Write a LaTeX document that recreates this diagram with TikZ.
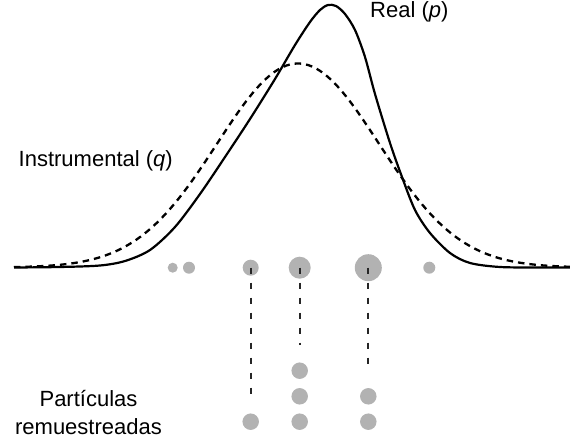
\documentclass[tikz,border=0pt]{standalone}
\usepackage{fontspec}
\setmainfont{Liberation Sans}
\usetikzlibrary{positioning}

\begin{document}
\begin{tikzpicture}[x=1pt, y=-1pt,
      font=\fontsize{22}{27.5}\selectfont,
      real/.style={line width=2.2pt, line join=round},
      instr/.style={line width=2.3pt, dash pattern=on 6.5pt off 5pt},
      part/.style={circle, fill=black!30, draw=none, inner sep=0pt},
      res/.style={part, minimum size=16.5pt},
      link/.style={line width=1.7pt, black!85, dash pattern=on 6pt off 9pt},
      lbl/.style={inner sep=0pt, anchor=base west}
    ]
    \useasboundingbox (0,0) rectangle (570,444);

    % ---- densities ----
    \draw[instr] plot[domain=14:570, samples=150]
      (\x, {267.5-204*exp(-0.5*((\x-298)/81)^2)});
    \draw[real] plot[smooth, tension=0.5] coordinates {
      (14,267.5) (60,267) (100,265.5) (125,261) (150,250) (175,227)
      (200,194) (225,157) (250,119) (275,79) (295,45) (310,22) (320,10)
      (328,5) (336,6) (345,14) (355,30) (365,57) (375,94) (390,143)
      (402,177) (415,210) (430,233) (450,253) (470,263) (500,267)
      (540,267.5) (570,267.5)};

    % ---- weighted particles ----
    \foreach \px/\d [count=\i] in {172.7/10, 189/12, 250.7/16,
                                   299.7/22, 368.3/27, 429.3/12}
      \node[part, minimum size=\d pt] (s\i) at (\px,267.7) {};

    % ---- resampled particles ----
    \node[res] (r1) at (250.7,421.7) {};
    \node[res] (r2a) at (299.7,370.7) {};
    \node[res] (r2b) at (299.7,396.3) {};
    \node[res] (r2c) at (299.7,421.7) {};
    \node[res] (r3a) at (368.3,396.3) {};
    \node[res] (r3b) at (368.3,421.7) {};

    \draw[link] (s3.center) -- ([yshift=18pt]r1.north);
    \draw[link] (s4.center) -- ([yshift=17pt]r2a.north);
    \draw[link] (s5.center) -- ([yshift=21pt]r3a.north);

    % ---- labels ----
    \node[lbl] (preal) at (370,17.5) {Real (\textit{p})};
    \node[lbl] (pinst) at (18.5,166.7) {Instrumental (\textit{q})};
    \node[align=center, inner sep=0pt] (resam) at (88.5,412.6)
      {Partículas\\remuestreadas};
  \end{tikzpicture}
\end{document}
